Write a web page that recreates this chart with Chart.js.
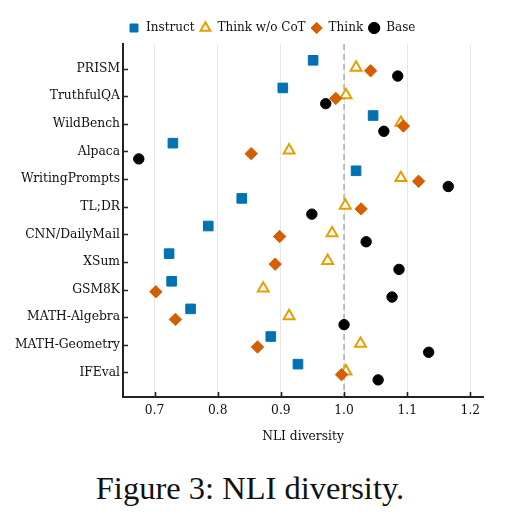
<!DOCTYPE html>
<html>
<head>
<meta charset="utf-8">
<script src="https://cdn.jsdelivr.net/npm/chart.js@4.4.1/dist/chart.umd.min.js"></script>
<style>
  html, body { margin: 0; padding: 0; background: #fff; }
  #wrap { position: relative; width: 506px; height: 523px; overflow: hidden; }
  #c { position: absolute; left: 0; top: 0; }
  #caption { position: absolute; left: 0; width: 500px; top: 470px; text-align: center;
    font-family: "Liberation Serif", serif; font-size: 32.5px; color: #111; }
</style>
</head>
<body>
<div id="wrap">
  <canvas id="c" width="506" height="460"></canvas>
  <div id="caption">Figure 3: NLI diversity.</div>
</div>
<script>
const categories = ["PRISM", "TruthfulQA", "WildBench", "Alpaca", "WritingPrompts", "TL;DR",
  "CNN/DailyMail", "XSum", "GSM8K", "MATH-Algebra", "MATH-Geometry", "IFEval"];
const instruct  = [0.951, 0.903, 1.046, 0.729, 1.019, 0.838, 0.785, 0.723, 0.727, 0.757, 0.884, 0.927];
const thinkNoCot = [1.019, 1.003, 1.090, 0.913, 1.090, 1.002, 0.981, 0.974, 0.872, 0.913, 1.026, 1.003];
const think     = [1.042, 0.987, 1.094, 0.853, 1.118, 1.027, 0.898, 0.891, 0.702, 0.733, 0.863, 0.996];
const base      = [1.085, 0.971, 1.063, 0.675, 1.165, 0.949, 1.035, 1.087, 1.076, 1.000, 1.134, 1.054];
const seriesNames = ["Instruct", "Think w/o CoT", "Think", "Base"];
const rowOffsets = [-0.30, -0.04, 0.08, 0.27];
const xTicks = [0.7, 0.8, 0.9, 1.0, 1.1, 1.2];
const referenceX = 1.0;

const Y_MIN = -0.89, Y_MAX = categories.length - 1 + 0.89;

function pts(vals, off) { return vals.map((v, i) => ({ x: v, y: i + off })); }

const inwardTicks = {
  id: 'inwardTicks',
  afterDatasetsDraw(chart) {
    const { ctx, chartArea, scales } = chart;
    ctx.save();
    ctx.strokeStyle = '#222';
    ctx.lineWidth = 1.6;
    ctx.beginPath();
    scales.x.ticks.forEach(t => {
      const px = Math.round(scales.x.getPixelForValue(t.value)) + 0.5;
      ctx.moveTo(px, chartArea.bottom);
      ctx.lineTo(px, chartArea.bottom - 5);
    });
    scales.y.ticks.forEach(t => {
      const py = Math.round(scales.y.getPixelForValue(t.value)) + 0.5;
      ctx.moveTo(chartArea.left, py);
      ctx.lineTo(chartArea.left + 5, py);
    });
    ctx.stroke();
    ctx.restore();
  }
};

const serif = '"DejaVu Serif", serif';
const FS = 12.3;

new Chart(document.getElementById('c'), {
  type: 'scatter',
  data: {
    datasets: [
      { label: seriesNames[0], data: pts(instruct, rowOffsets[0]), pointStyle: 'rect', pointRadius: 6.8,
        backgroundColor: '#0072B2', borderColor: '#0072B2', borderWidth: 1, order: 4 },
      { label: seriesNames[1], data: pts(thinkNoCot, rowOffsets[1]), pointStyle: 'triangle', pointRadius: 6.3,
        backgroundColor: '#ffffff', borderColor: '#E69F00', borderWidth: 2, order: 3 },
      { label: seriesNames[2], data: pts(think, rowOffsets[2]), pointStyle: 'rectRot', pointRadius: 6.2,
        backgroundColor: '#D55E00', borderColor: '#D55E00', borderWidth: 1, order: 2 },
      { label: seriesNames[3], data: pts(base, rowOffsets[3]), pointStyle: 'circle', pointRadius: 5.2,
        backgroundColor: '#000000', borderColor: '#000000', borderWidth: 1, order: 1 },
      { label: 'ref', data: [{ x: referenceX, y: Y_MIN }, { x: referenceX, y: Y_MAX }], showLine: true,
        pointRadius: 0, borderColor: '#b0b0b0', borderWidth: 1.6, borderDash: [6, 4], order: 5 }
    ]
  },
  options: {
    responsive: false,
    animation: false,
    events: [],
    layout: { padding: { left: 5, right: 23, top: 17, bottom: 12 } },
    plugins: {
      tooltip: { enabled: false },
      legend: {
        position: 'top',
        fullSize: false,
        align: 'start',
        labels: {
          usePointStyle: true,
          boxHeight: 8,
          padding: 5,
          color: '#111',
          font: { family: serif, size: 12 },
          filter: item => item.text !== 'ref',
          sort: (a, b) => a.datasetIndex - b.datasetIndex
        }
      }
    },
    scales: {
      x: {
        type: 'linear',
        min: 0.65, max: 1.22,
        afterBuildTicks: s => { s.ticks = xTicks.map(v => ({ value: v })); },
        afterFit: s => { s.height = 51; },
        ticks: { color: '#111', padding: 6, font: { family: serif, size: FS },
          callback: v => Number(v).toFixed(1) },
        grid: { display: true, drawTicks: false, color: 'rgba(0,0,0,0.12)', lineWidth: 0.8, borderDash: [1.5, 2.5] },
        border: { display: true, color: '#222', width: 2 },
        title: { display: true, text: 'NLI diversity', color: '#111', font: { family: serif, size: FS },
          padding: { top: 4, bottom: 4 } }
      },
      y: {
        type: 'linear',
        reverse: true,
        min: Y_MIN, max: Y_MAX,
        afterBuildTicks: s => { s.ticks = categories.map((c, i) => ({ value: i })); },
        afterFit: s => { s.width = 118; },
        ticks: { color: '#111', padding: 3, font: { family: serif, size: FS },
          callback: v => categories[Math.round(v)] },
        grid: { display: true, drawTicks: false, color: 'rgba(0,0,0,0)' },
        border: { display: true, color: '#222', width: 2 }
      }
    }
  },
  plugins: [inwardTicks]
});
</script>
</body>
</html>
